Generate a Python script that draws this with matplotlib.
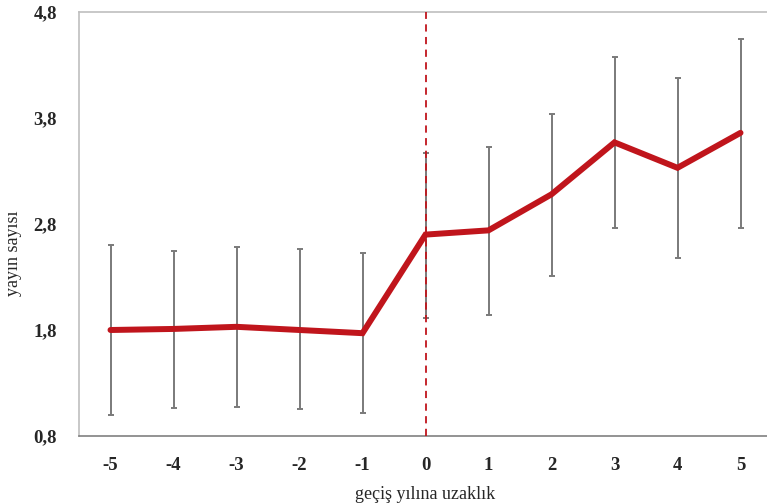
import matplotlib
matplotlib.use("Agg")
import matplotlib.pyplot as plt
from matplotlib.ticker import FuncFormatter

plt.rcParams["font.family"] = ["Liberation Serif", "DejaVu Serif"]
plt.rcParams["axes.unicode_minus"] = False

yil = [-5, -4, -3, -2, -1, 0, 1, 2, 3, 4, 5]
ortalama = [1.80, 1.81, 1.83, 1.80, 1.77, 2.70, 2.74, 3.08, 3.57, 3.33, 3.66]
ust = [2.60, 2.55, 2.58, 2.56, 2.53, 3.47, 3.53, 3.84, 4.38, 4.18, 4.55]
alt = [1.00, 1.06, 1.07, 1.05, 1.02, 1.91, 1.94, 2.31, 2.76, 2.48, 2.76]

hata_ust = [u - m for u, m in zip(ust, ortalama)]
hata_alt = [m - a for m, a in zip(ortalama, alt)]

fig = plt.figure(figsize=(7.67, 5.04), dpi=100)
ax = fig.add_axes([79 / 767, (504 - 436) / 504, (772 - 79) / 767, (436 - 12) / 504])

ax.errorbar(yil, ortalama, yerr=[hata_alt, hata_ust], fmt="none",
            ecolor="#7a7a7a", elinewidth=1.4, capsize=2.5, capthick=1.4, zorder=2)
ax.plot(yil, ortalama, color="#c0151c", linewidth=4.3, solid_capstyle="round",
        solid_joinstyle="miter", zorder=3)
ax.axvline(0, color="#c0151c", linewidth=1.3, linestyle=(0, (4, 3)), zorder=4)

ax.set_xlim(-5.5, 5.5)
ax.set_ylim(0.8, 4.8)
ax.set_xticks(yil)
ax.set_yticks([0.8, 1.8, 2.8, 3.8, 4.8])
ax.yaxis.set_major_formatter(FuncFormatter(lambda v, p: f"{v:.1f}".replace(".", ",")))
ax.tick_params(length=0, labelsize=13.5, colors="#262626")
ax.tick_params(axis="y", pad=16)
ax.tick_params(axis="x", pad=15)
for lbl in ax.get_xticklabels() + ax.get_yticklabels():
    lbl.set_fontweight("bold")

ax.spines["right"].set_visible(False)
ax.spines["top"].set_color("#bfbfbf")
ax.spines["left"].set_color("#bfbfbf")
ax.spines["bottom"].set_color("#808080")
for s in ["top", "left", "bottom"]:
    ax.spines[s].set_linewidth(1.2)

ax.set_xlabel("geçiş yılına uzaklık", fontsize=13, color="#262626", labelpad=9)
ax.set_ylabel("yayın sayısı", fontsize=13, color="#262626")
ax.yaxis.set_label_coords(-57 / 693, 0.43)

fig.savefig("out.png", dpi=100)
